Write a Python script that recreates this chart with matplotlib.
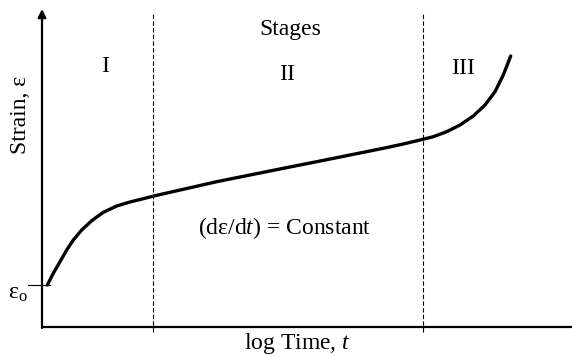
import matplotlib
matplotlib.use('Agg')
import matplotlib.pyplot as plt

plt.rcParams.update({
    'font.family': 'Liberation Serif',
    'mathtext.fontset': 'custom',
    'mathtext.rm': 'Liberation Serif',
    'mathtext.it': 'Liberation Serif:italic',
})

# creep curve (x: log time, y: strain, arbitrary units)
log_time = [5.3, 11.3, 18, 24.7, 31.3, 39.7, 49.7, 61.3, 74.7, 88, 101.3, 113,
            141.3, 174.7, 208, 241.3, 274.7, 308, 341.3, 361.3, 378, 391.3,
            404.7, 418, 431.3, 443, 453, 461.3, 468.7]
strain = [42, 53.7, 65.3, 77, 87, 97, 106.3, 114.7, 121, 125, 128.3, 131.3,
          137.7, 145.3, 152, 158.7, 165.3, 172, 178.7, 183, 187, 190.3,
          195.3, 202, 211, 222, 235.3, 252, 271]

stage_bounds = [111, 381]
stage_labels = ['I', 'II', 'III']
stage_label_x = [63, 245, 421]
stage_label_y = [260, 253, 258]
strain_0 = 42

fig = plt.figure(figsize=(5.72, 3.56), dpi=100)
ax = fig.add_axes([42 / 572, 29 / 356, 530 / 572, 313 / 356])
ax.set_xlim(0, 530)
ax.set_ylim(0, 313)
ax.axis('off')

# axes lines
ax.plot([0, 530], [0, 0], color='black', lw=1.6, clip_on=False, solid_capstyle='butt')
ax.annotate('', xy=(0, 318), xytext=(0, -1),
            arrowprops=dict(arrowstyle='-|>', color='black', lw=1.6,
                            mutation_scale=12, shrinkA=0, shrinkB=0),
            annotation_clip=False)

# stage boundaries
for xb in stage_bounds:
    ax.plot([xb, xb], [-5, 313], color='black', lw=0.8, ls=(0, (4, 2)), clip_on=False)

# curve
ax.plot(log_time, strain, color='black', lw=2.4, solid_capstyle='round',
        solid_joinstyle='round')

# initial strain tick
ax.plot([-14, 8], [strain_0, strain_0], color='black', lw=0.8, clip_on=False)
ax.text(-24, strain_0 - 8, 'ε$_{\\rm o}$', fontsize=17, ha='center', va='center')

for lab, lx, ly in zip(stage_labels, stage_label_x, stage_label_y):
    ax.text(lx, ly, lab, fontsize=17, ha='center', va='center')
ax.text(248, 297, 'Stages', fontsize=17, ha='center', va='center')
ax.text(243, 99, '(dε/d$t$) = Constant', fontsize=17, ha='center', va='center')

ax.text(255, -16, 'log Time, $t$', fontsize=17, ha='center', va='center', clip_on=False)
ax.text(-22, 212, 'Strain, ε', fontsize=17, ha='center', va='center', rotation=90)

fig.savefig('out.png', dpi=100)
